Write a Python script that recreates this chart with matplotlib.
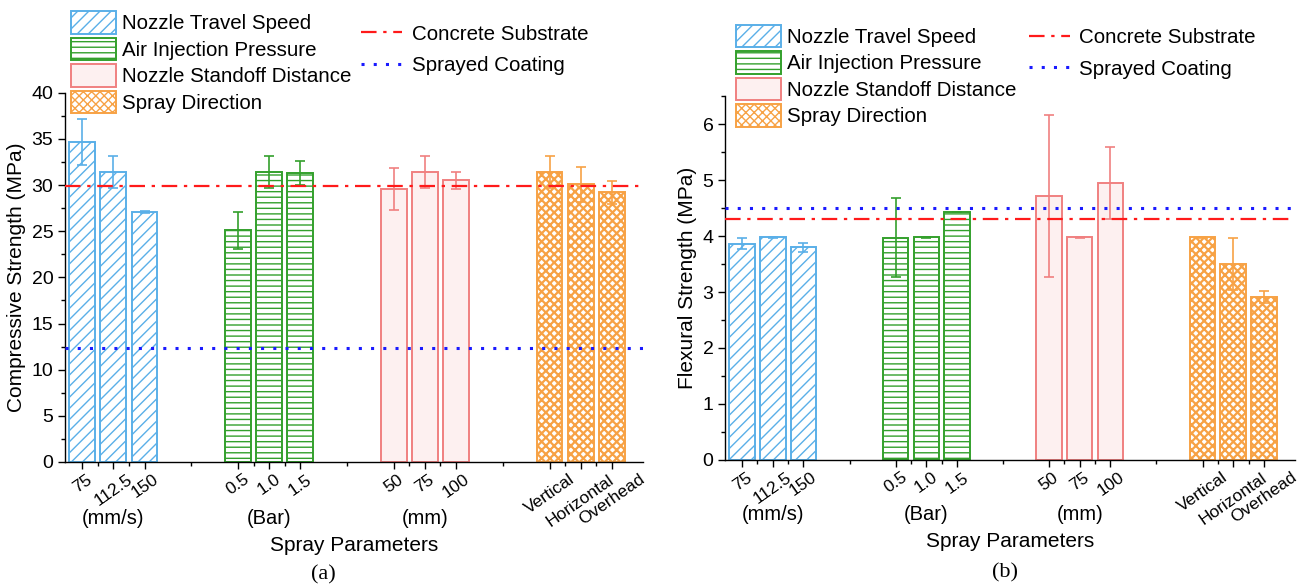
#!/usr/bin/env python3
"""
Compressive / flexural strength vs spray parameters, two panels
"""

import matplotlib
matplotlib.use("Agg")
import matplotlib.pyplot as plt
from matplotlib import rcParams
from matplotlib.patches import Patch
from matplotlib.lines import Line2D
from matplotlib.ticker import MultipleLocator, FixedLocator
import matplotlib.transforms as mtransforms

# ---- data -------------------------------------------------------------
groups = ["Nozzle Travel Speed", "Air Injection Pressure",
          "Nozzle Standoff Distance", "Spray Direction"]
group_units = ["(mm/s)", "(Bar)", "(mm)", ""]
tick_labels = [["75", "112.5", "150"],
               ["0.5", "1.0", "1.5"],
               ["50", "75", "100"],
               ["Vertical", "Horizontal", "Overhead"]]

comp_mean = [[34.7, 31.4, 27.1],
             [25.1, 31.4, 31.3],
             [29.6, 31.4, 30.5],
             [31.4, 30.1, 29.2]]
comp_err = [[2.5, 1.7, 0.1],
            [2.0, 1.7, 1.3],
            [2.3, 1.7, 0.9],
            [1.7, 1.9, 1.2]]

flex_mean = [[3.86, 3.98, 3.80],
             [3.97, 3.98, 4.42],
             [4.72, 3.98, 4.95],
             [3.98, 3.50, 2.91]]
flex_err = [[0.10, 0.01, 0.08],
            [0.70, 0.01, 0.00],
            [1.45, 0.01, 0.64],
            [0.01, 0.46, 0.10]]

comp_refs = {"Concrete Substrate": 29.9, "Sprayed Coating": 12.4}
flex_refs = {"Concrete Substrate": 4.30, "Sprayed Coating": 4.50}

STYLE = [
    {"edge": "#5AAFE8", "face": "white", "hatch": "///"},    # blue
    {"edge": "#33A02C", "face": "white", "hatch": "---"},    # green
    {"edge": "#F08080", "face": "#FDF0F0", "hatch": None},   # red / pink
    {"edge": "#F7A245", "face": "white", "hatch": "xxxx"},   # orange mesh
]
REF_STYLE = {
    "Concrete Substrate": {"color": "#FF1A1A", "ls": (0, (7, 3, 1.5, 3)), "lw": 1.6},
    "Sprayed Coating":    {"color": "#1A1AFF", "ls": (0, (1, 3)), "lw": 2.2},
}

GROUP_STEP = 5
BAR_W = 0.83


def draw_panel(ax, means, errs, refs, ylim, ymajor, ylabel, unit_y, xlab_y):
    handles = []
    for gi, (m, e) in enumerate(zip(means, errs)):
        s = STYLE[gi]
        xs = [gi * GROUP_STEP + 1 + k for k in range(len(m))]
        hlw = 1.6 if gi == 3 else 1.0
        with plt.rc_context({"hatch.linewidth": hlw}):
            ax.bar(xs, m, BAR_W, color=s["face"], edgecolor=s["edge"],
                   hatch=s["hatch"], linewidth=1.4, zorder=2)
            h = Patch(facecolor=s["face"], edgecolor=s["edge"], hatch=s["hatch"], linewidth=1.4)
        handles.append(h)
        ax.errorbar(xs, m, yerr=e, fmt="none", ecolor=s["edge"], elinewidth=1.2,
                    capsize=3.5, capthick=1.2, zorder=4)

    line_handles = []
    for name, val in refs.items():
        st = REF_STYLE[name]
        ax.axhline(val, color=st["color"], linestyle=st["ls"], linewidth=st["lw"], zorder=5)
        line_handles.append(Line2D([], [], color=st["color"], linestyle=st["ls"], linewidth=st["lw"]))

    pos = [gi * GROUP_STEP + 1 + k for gi in range(4) for k in range(3)]
    labs = [t for g in tick_labels for t in g]
    ax.set_xticks(pos)
    ax.set_xticklabels(labs, rotation=35, ha="center", va="top")
    ax.tick_params(axis="x", which="major", pad=2)
    minor = [1.5, 2.5, 4.5, 6.5, 7.5, 9.5, 11.5, 12.5, 14.5, 16.5, 17.5]
    ax.xaxis.set_minor_locator(FixedLocator(minor))
    ax.set_xlim(0.45, 19.0)

    ax.set_ylim(*ylim)
    ax.yaxis.set_major_locator(MultipleLocator(ymajor))
    ax.yaxis.set_minor_locator(MultipleLocator(ymajor / 2))
    ax.set_ylabel(ylabel, labelpad=4)

    ax.spines["top"].set_visible(False)
    ax.spines["right"].set_visible(False)
    ax.tick_params(which="major", direction="out", length=5, width=1.0)
    ax.tick_params(which="minor", direction="out", length=3, width=1.0)

    trans = mtransforms.blended_transform_factory(ax.transData, ax.transAxes)
    for gi, unit in enumerate(group_units):
        if unit:
            ax.text(gi * GROUP_STEP + 2, unit_y, unit, transform=trans,
                    ha="center", va="center")
    ax.text(0.5, xlab_y, "Spray Parameters", transform=ax.transAxes,
            ha="center", va="center", fontsize=15)
    return handles, line_handles


def main():
    rcParams.update({
        "font.family": ["Liberation Sans", "DejaVu Sans"],
        "font.size": 14.5,
        "axes.labelsize": 15,
        "xtick.labelsize": 12.5,
        "ytick.labelsize": 14,
        "axes.linewidth": 1.0,
        "hatch.linewidth": 1.0,
    })

    fig = plt.figure(figsize=(13.09, 5.87), dpi=100)
    ax1 = fig.add_axes([0.0497, 0.213, 0.4415, 0.629])
    ax2 = fig.add_axes([0.554, 0.2164, 0.435, 0.620])

    h1, l1 = draw_panel(ax1, comp_mean, comp_err, comp_refs, (0, 40), 5,
                        "Compressive Strength (MPa)", -0.153, -0.226)
    h2, l2 = draw_panel(ax2, flex_mean, flex_err, flex_refs, (0, 6.5), 1,
                        "Flexural Strength (MPa)", -0.150, -0.223)

    leg_kw = dict(frameon=False, borderpad=0, borderaxespad=0, fontsize=14.8)
    for handles, lines, bx, lx, by, ly in [(h1, l1, 0.054, 0.276, 0.981, 0.958),
                                           (h2, l2, 0.562, 0.786, 0.958, 0.952)]:
        fig.legend(handles, groups, loc="upper left", bbox_to_anchor=(bx, by),
                   handlelength=2.2, handleheight=1.3, labelspacing=0.2,
                   handletextpad=0.3, **leg_kw)
        fig.legend(lines, list(comp_refs.keys()), loc="upper left",
                   bbox_to_anchor=(lx, ly), handlelength=2.0, labelspacing=0.6,
                   handletextpad=0.45, **leg_kw)

    fig.text(0.247, 0.02, "(a)", family="Liberation Serif", fontsize=16,
             ha="center", va="center")
    fig.text(0.768, 0.024, "(b)", family="Liberation Serif", fontsize=16,
             ha="center", va="center")

    fig.savefig("out.png", dpi=100)


if __name__ == "__main__":
    main()
